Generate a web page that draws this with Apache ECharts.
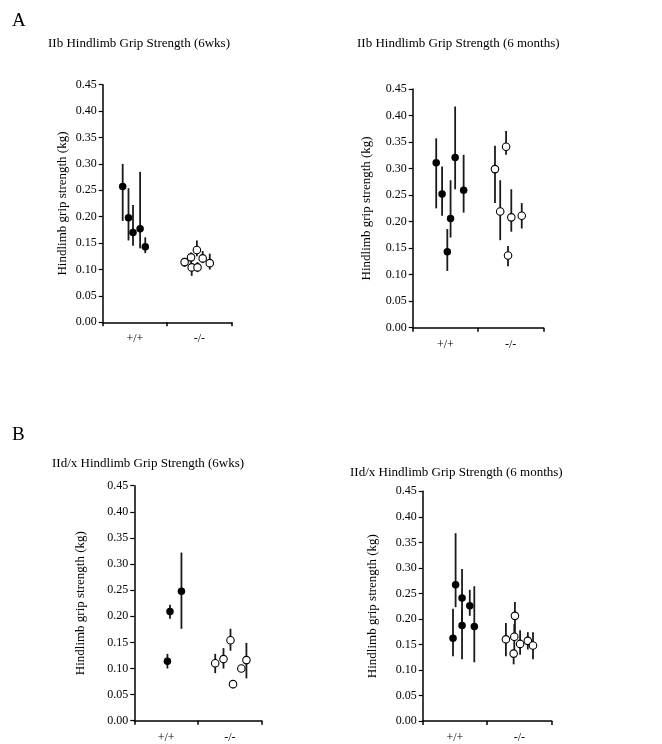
<!DOCTYPE html>
<html>
<head>
<meta charset="utf-8">
<script src="https://cdn.jsdelivr.net/npm/echarts@6/dist/echarts.min.js"></script>
<style>html,body{margin:0;padding:0;background:#fff}#chart{width:662px;height:744px}</style>
</head>
<body>
<div id="chart"></div>
<script>
// ---------- data ----------
const groupLabels = ['+/+', '-/-'];
const panelLetters = ['A', 'B'];
const panelTitles = [
  'IIb Hindlimb Grip Strength (6wks)',
  'IIb Hindlimb Grip Strength (6 months)',
  'IId/x Hindlimb Grip Strength (6wks)',
  'IId/x Hindlimb Grip Strength (6 months)'
];
const yAxisTitle = 'Hindlimb grip strength (kg)';

// position within group band (0..1 = +/+, 1..2 = -/-), mean, lower, upper
// IIb 6wks
const iib6wWtPos  = [0.31, 0.40, 0.47, 0.58, 0.66];
const iib6wWtMean = [0.257, 0.198, 0.170, 0.177, 0.143];
const iib6wWtLow  = [0.192, 0.155, 0.145, 0.140, 0.131];
const iib6wWtHigh = [0.300, 0.254, 0.222, 0.285, 0.161];
const iib6wKoPos  = [1.27, 1.37, 1.38, 1.46, 1.47, 1.55, 1.66];
const iib6wKoMean = [0.114, 0.123, 0.104, 0.137, 0.104, 0.121, 0.112];
const iib6wKoLow  = [0.105, 0.112, 0.088, 0.125, 0.095, 0.112, 0.100];
const iib6wKoHigh = [0.122, 0.132, 0.112, 0.155, 0.114, 0.135, 0.130];
// IIb 6 months
const iib6mWtPos  = [0.36, 0.45, 0.53, 0.58, 0.65, 0.78];
const iib6mWtMean = [0.311, 0.252, 0.143, 0.206, 0.321, 0.259];
const iib6mWtLow  = [0.225, 0.211, 0.107, 0.170, 0.261, 0.217];
const iib6mWtHigh = [0.357, 0.304, 0.186, 0.278, 0.417, 0.326];
const iib6mKoPos  = [1.26, 1.34, 1.43, 1.46, 1.51, 1.67];
const iib6mKoMean = [0.299, 0.219, 0.341, 0.136, 0.208, 0.211];
const iib6mKoLow  = [0.235, 0.165, 0.326, 0.116, 0.181, 0.187];
const iib6mKoHigh = [0.343, 0.278, 0.371, 0.154, 0.261, 0.235];
// IId/x 6wks
const iid6wWtPos  = [0.52, 0.56, 0.74];
const iid6wWtMean = [0.114, 0.209, 0.248];
const iid6wWtLow  = [0.100, 0.195, 0.176];
const iid6wWtHigh = [0.128, 0.222, 0.322];
const iid6wKoPos  = [1.27, 1.40, 1.51, 1.55, 1.68, 1.76];
const iid6wKoMean = [0.110, 0.118, 0.154, 0.070, 0.100, 0.116];
const iid6wKoLow  = [0.091, 0.100, 0.134, 0.062, 0.097, 0.081];
const iid6wKoHigh = [0.128, 0.139, 0.176, 0.078, 0.104, 0.149];
// IId/x 6 months
const iid6mWtPos  = [0.47, 0.51, 0.61, 0.61, 0.73, 0.80];
const iid6mWtMean = [0.162, 0.267, 0.241, 0.187, 0.226, 0.185];
const iid6mWtLow  = [0.127, 0.223, 0.190, 0.121, 0.206, 0.115];
const iid6mWtHigh = [0.220, 0.368, 0.298, 0.219, 0.257, 0.264];
const iid6mKoPos  = [1.29, 1.41, 1.42, 1.43, 1.51, 1.63, 1.71];
const iid6mKoMean = [0.160, 0.132, 0.165, 0.206, 0.151, 0.157, 0.148];
const iid6mKoLow  = [0.127, 0.111, 0.138, 0.165, 0.130, 0.140, 0.121];
const iid6mKoHigh = [0.192, 0.140, 0.190, 0.233, 0.178, 0.174, 0.174];

const yMin = 0, yMax = 0.45, yStep = 0.05;

// ---------- layout ----------
const FONT = '"Liberation Serif", "Times New Roman", serif';
const panels = [
  { grid: {left: 102.7, top: 84.7, width: 129, height: 237.6}, nameGap: 34,
    wt: [iib6wWtPos, iib6wWtMean, iib6wWtLow, iib6wWtHigh], ko: [iib6wKoPos, iib6wKoMean, iib6wKoLow, iib6wKoHigh],
    title: {left: 48, top: 37} },
  { grid: {left: 412.7, top: 89, width: 130.6, height: 238.7}, nameGap: 40,
    wt: [iib6mWtPos, iib6mWtMean, iib6mWtLow, iib6mWtHigh], ko: [iib6mKoPos, iib6mKoMean, iib6mKoLow, iib6mKoHigh],
    title: {left: 357, top: 37} },
  { grid: {left: 134.3, top: 485.7, width: 127.4, height: 235}, nameGap: 47,
    wt: [iid6wWtPos, iid6wWtMean, iid6wWtLow, iid6wWtHigh], ko: [iid6wKoPos, iid6wKoMean, iid6wKoLow, iid6wKoHigh],
    title: {left: 52, top: 457} },
  { grid: {left: 422.7, top: 491.3, width: 129, height: 237.4}, nameGap: 44,
    wt: [iid6mWtPos, iid6mWtMean, iid6mWtLow, iid6mWtHigh], ko: [iid6mKoPos, iid6mKoMean, iid6mKoLow, iid6mKoHigh],
    title: {left: 350, top: 466} }
];

function zipRows(arrs) {
  return arrs[0].map((_, i) => arrs.map(a => a[i]));
}

function errRender(params, api) {
  const x = api.value(0), lo = api.value(2), hi = api.value(3);
  const p1 = api.coord([x, lo]);
  const p2 = api.coord([x, hi]);
  return {
    type: 'line',
    shape: {x1: p1[0], y1: p1[1], x2: p2[0], y2: p2[1]},
    style: {stroke: '#1a1a1a', lineWidth: 1.8}
  };
}

const grids = [], xAxes = [], yAxes = [], series = [], titles = [];
panels.forEach((p, i) => {
  grids.push(Object.assign({containLabel: false}, p.grid));
  xAxes.push({
    type: 'category', gridIndex: i, data: groupLabels, boundaryGap: true,
    axisLine: {lineStyle: {color: '#000', width: 1.5}},
    axisTick: {show: true, length: 4, interval: 0, lineStyle: {color: '#000', width: 1.5}},
    axisLabel: {color: '#000', fontFamily: FONT, fontSize: 12, margin: 11},
    splitLine: {show: false}
  });
  xAxes.push({
    type: 'value', gridIndex: i, min: 0, max: 2, show: false, splitLine: {show: false}
  });
  yAxes.push({
    type: 'value', gridIndex: i, min: yMin, max: yMax, interval: yStep,
    name: yAxisTitle, nameLocation: 'middle', nameRotate: 90, nameGap: p.nameGap,
    nameTextStyle: {color: '#000', fontFamily: FONT, fontSize: 13},
    axisLine: {show: true, lineStyle: {color: '#000', width: 1.5}},
    axisTick: {show: true, length: 4, lineStyle: {color: '#000', width: 1.2}},
    axisLabel: {color: '#000', fontFamily: FONT, fontSize: 12, margin: 6,
      formatter: v => v.toFixed(2)},
    splitLine: {show: false}
  });
  const wtRows = zipRows(p.wt), koRows = zipRows(p.ko);
  series.push({type: 'custom', xAxisIndex: 2 * i + 1, yAxisIndex: i, renderItem: errRender,
    data: wtRows, encode: {x: 0, y: [1, 2, 3]}, z: 2, silent: true});
  series.push({type: 'custom', xAxisIndex: 2 * i + 1, yAxisIndex: i, renderItem: errRender,
    data: koRows, encode: {x: 0, y: [1, 2, 3]}, z: 2, silent: true});
  series.push({type: 'scatter', xAxisIndex: 2 * i + 1, yAxisIndex: i, symbol: 'circle', symbolSize: 7.5,
    data: wtRows.map(r => [r[0], r[1]]), itemStyle: {color: '#000', opacity: 1}, z: 5, silent: true});
  series.push({type: 'scatter', xAxisIndex: 2 * i + 1, yAxisIndex: i, symbol: 'circle', symbolSize: 7.5,
    data: koRows.map(r => [r[0], r[1]]), itemStyle: {color: '#fff', borderColor: '#000', borderWidth: 1.1, opacity: 1}, z: 5, silent: true});
  titles.push({text: panelTitles[i], left: p.title.left, top: p.title.top, padding: 0,
    textStyle: {color: '#000', fontFamily: FONT, fontSize: 13, fontWeight: 'normal'}});
});
titles.push({text: panelLetters[0], left: 12, top: 12, padding: 0,
  textStyle: {color: '#000', fontFamily: FONT, fontSize: 19, fontWeight: 'normal'}});
titles.push({text: panelLetters[1], left: 12, top: 426, padding: 0,
  textStyle: {color: '#000', fontFamily: FONT, fontSize: 19, fontWeight: 'normal'}});

const chart = echarts.init(document.getElementById('chart'), null, {renderer: 'canvas'});
chart.setOption({
  backgroundColor: '#fff',
  animation: false,
  title: titles,
  grid: grids,
  xAxis: xAxes,
  yAxis: yAxes,
  series: series
});
</script>
</body>
</html>
